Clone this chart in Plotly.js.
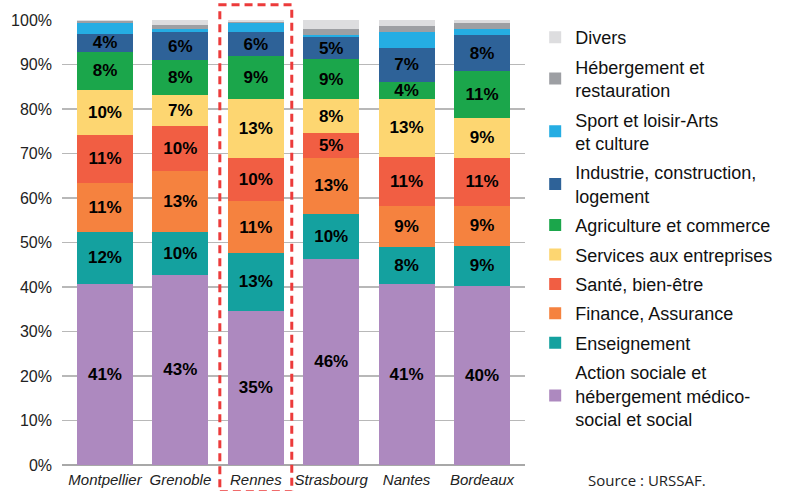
<!DOCTYPE html>
<html>
<head>
<meta charset="utf-8">
<script src="https://cdn.plot.ly/plotly-3.0.1.min.js"></script>
<style>html,body{margin:0;padding:0;background:#fff}#chart{width:793px;height:491px}</style>
</head>
<body>
<div id="chart"></div>
<script>
const cities = ["Montpellier", "Grenoble", "Rennes", "Strasbourg", "Nantes", "Bordeaux"];

// Values (%) per sector, bottom to top of stack
const action      = [40.7, 42.7, 34.7, 46.3, 40.7, 40.3];
const enseignement= [11.7,  9.7, 12.9, 10.1,  8.3,  9.0];
const finance     = [11.0, 13.7, 11.7, 12.6,  9.2,  8.9];
const sante       = [10.8, 10.1,  9.6,  5.5, 11.1, 10.9];
const services    = [10.1,  6.9, 13.3,  7.7, 12.9,  8.9];
const agriculture = [ 8.5,  7.9,  9.7,  9.0,  3.9, 10.5];
const industrie   = [ 4.1,  6.3,  5.4,  5.0,  7.6,  8.1];
const sport       = [ 2.4,  0.7,  2.0,  0.4,  3.6,  1.4];
const hebergement = [ 0.5,  0.9,  0.2,  1.3,  1.4,  1.3];
const divers      = [ 0.2,  1.1,  0.5,  2.1,  1.3,  0.7];

// Printed labels
const lblAction   = ["41%", "43%", "35%", "46%", "41%", "40%"];
const lblEns      = ["12%", "10%", "13%", "10%", "8%", "9%"];
const lblFin      = ["11%", "13%", "11%", "13%", "9%", "9%"];
const lblSante    = ["11%", "10%", "10%", "5%", "11%", "11%"];
const lblServ     = ["10%", "7%", "13%", "8%", "13%", "9%"];
const lblAgri     = ["8%", "8%", "9%", "9%", "4%", "11%"];
const lblInd      = ["4%", "6%", "6%", "5%", "7%", "8%"];
const lblNone     = ["", "", "", "", "", ""];

const seriesNames = [
  "Action sociale et<br>hébergement médico-<br>social et social",
  "Enseignement",
  "Finance, Assurance",
  "Santé, bien-être",
  "Services aux entreprises",
  "Agriculture et commerce",
  "Industrie, construction,<br>logement",
  "Sport et loisir-Arts<br>et culture",
  "Hébergement et<br>restauration",
  "Divers"
];
const seriesValues = [action, enseignement, finance, sante, services, agriculture, industrie, sport, hebergement, divers];
const seriesLabels = [lblAction, lblEns, lblFin, lblSante, lblServ, lblAgri, lblInd, lblNone, lblNone, lblNone];
const seriesColors = ["#ad89bf", "#14a19f", "#f5823f", "#f15e43", "#fdd671", "#1ba64b", "#2e6298", "#25ade3", "#9d9fa3", "#dddddf"];

const FONT = "Liberation Sans, Arial, Helvetica, sans-serif";

const traces = seriesNames.map((name, i) => ({
  type: "bar",
  name: name,
  legendgroup: "g" + i,
  legendrank: 1000 - i,
  x: cities,
  y: seriesValues[i],
  text: seriesLabels[i],
  textposition: "inside",
  insidetextanchor: "middle",
  constraintext: "none",
  textangle: 0,
  textfont: {family: FONT, size: 17, color: "#000", weight: "bold"},
  marker: {color: seriesColors[i], line: {width: 0}},
  hoverinfo: "skip"
}));

const layout = {
  width: 793,
  height: 491,
  barmode: "stack",
  bargap: 0.26,
  margin: {l: 62, r: 268, t: 20, b: 26},
  paper_bgcolor: "#fff",
  plot_bgcolor: "#fff",
  font: {family: FONT, color: "#222"},
  showlegend: true,
  legend: {
    traceorder: "grouped",
    tracegroupgap: 3,
    maxheight: 480,
    x: 1.022, xanchor: "left",
    y: 1.002, yanchor: "top",
    bgcolor: "rgba(0,0,0,0)",
    font: {family: FONT, size: 18, color: "#111"},
    itemclick: false
  },
  xaxis: {
    type: "category",
    range: [-0.57, 5.57],
    showgrid: false,
    showline: false,
    ticks: "",
    ticklabelstandoff: 4,
    tickfont: {family: FONT, size: 15, color: "#222", style: "italic"},
    fixedrange: true
  },
  yaxis: {
    range: [0, 100],
    dtick: 10,
    ticksuffix: "%",
    showgrid: true,
    gridcolor: "#b8b8b8",
    gridwidth: 1.5,
    zeroline: true,
    zerolinecolor: "#a8a8a8",
    zerolinewidth: 1.5,
    ticks: "",
    ticklabelstandoff: 9,
    tickfont: {family: FONT, size: 16, color: "#222"},
    fixedrange: true
  },
  shapes: [{
    type: "rect",
    xref: "x", yref: "paper",
    x0: 2 - 0.477, x1: 2 + 0.477,
    y0: -0.06, y1: 1.034,
    line: {color: "#ec3b3b", width: 3, dash: "8px,5px"},
    fillcolor: "rgba(0,0,0,0)",
    layer: "above"
  }],
  annotations: [{
    text: "Source : URSSAF.",
    xref: "paper", yref: "paper",
    x: 1.132, y: -0.034,
    xanchor: "left", yanchor: "middle",
    showarrow: false,
    font: {family: "Open Sans, Liberation Sans, sans-serif", size: 15, color: "#222"}
  }]
};

Plotly.newPlot("chart", traces, layout, {displayModeBar: false, staticPlot: true});
</script>
</body>
</html>
